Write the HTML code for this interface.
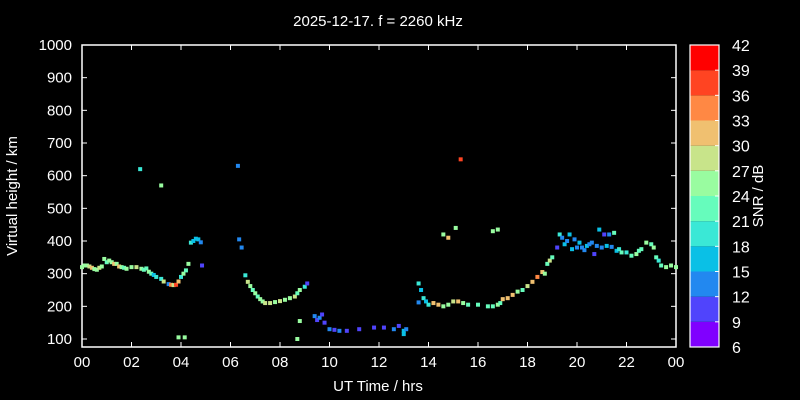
<!DOCTYPE html>
<html><head><meta charset="utf-8"><style>
html,body{margin:0;padding:0;background:#000;}
svg{display:block;font-family:"Liberation Sans",sans-serif;}
</style></head><body>
<svg id="chart" width="800" height="400" viewBox="0 0 800 400">
<rect width="800" height="400" fill="#000"/>
<text x="378" y="26" fill="#fff" font-size="15" text-anchor="middle">2025-12-17. f = 2260 kHz</text>
<g id="axes"></g>
<g id="points"></g>
<g id="cbar"></g>
<text x="378" y="391" fill="#fff" font-size="15" text-anchor="middle">UT Time / hrs</text>
<text transform="translate(17,196) rotate(-90)" fill="#fff" font-size="15" text-anchor="middle">Virtual height / km</text>
<text transform="translate(763,196) rotate(-90)" fill="#fff" font-size="15" text-anchor="middle">SNR / dB</text>
</svg>
<script>
const xTicks=[0,2,4,6,8,10,12,14,16,18,20,22,24];
const xTickLabels=["00","02","04","06","08","10","12","14","16","18","20","22","00"];
const yTicks=[100,200,300,400,500,600,700,800,900,1000];
const cbTicks=[6,9,12,15,18,21,24,27,30,33,36,39,42];
const cbColors=["#8000ff","#5044fc","#2288f0","#0ac0e6","#3ae8d6","#66fcbc","#99fca0","#c8e48a","#f0c070","#ff8844","#ff4422","#ff0000"];
const times=[0,0.1,0.2,0.3,0.4,0.5,0.6,0.7,0.8,0.9,1.0,1.1,1.2,1.3,1.4,1.5,1.6,1.7,1.8,2.0,2.2,2.4,2.5,2.6,2.7,2.8,2.9,3.0,3.2,3.3,3.5,3.6,3.7,3.8,3.9,4.0,4.1,4.2,4.3,4.4,4.5,4.6,4.7,4.8,4.85,
2.35,3.2,3.9,4.15,6.3,6.35,6.45,
6.6,6.7,6.8,6.9,7.0,7.1,7.2,7.3,7.4,7.6,7.8,8.0,8.2,8.4,8.6,8.7,8.8,9.0,9.1,8.8,8.7,9.4,9.5,9.6,9.7,9.8,10.0,10.2,10.4,10.7,11.2,11.8,12.2,12.6,12.8,13.0,13.1,13.0,
13.6,13.7,13.6,13.8,13.9,14.0,14.2,14.4,14.6,14.8,15.0,15.2,15.4,15.6,16.0,16.4,16.6,16.8,16.9,17.0,17.2,17.4,17.6,17.8,18.0,18.2,18.4,18.6,18.7,18.8,18.9,19.0,19.2,19.3,19.4,19.5,19.6,19.7,19.8,19.9,20.0,20.1,20.2,20.3,20.4,20.5,20.6,20.7,20.8,20.9,21.0,21.1,21.2,21.3,21.4,21.5,21.6,21.7,21.8,22.0,22.2,22.4,22.5,22.6,22.8,23.0,23.1,23.2,23.3,23.4,23.6,23.8,24.0,
15.3,14.6,14.8,15.1,16.6,16.8];
const heights=[320,325,325,322,318,314,312,318,322,345,335,340,335,330,330,322,320,318,315,320,320,315,312,316,306,300,296,290,284,276,268,266,265,266,276,290,300,310,330,395,400,407,405,396,325,
620,570,105,105,630,405,380,
295,275,262,250,240,230,222,215,210,210,213,216,220,225,230,240,250,260,270,155,100,170,158,165,175,150,130,128,125,125,130,135,135,130,140,125,130,115,
270,250,212,225,215,205,210,205,200,205,215,215,210,205,205,200,200,205,210,222,225,235,245,250,262,275,290,305,300,330,340,350,380,420,410,390,400,420,375,405,380,395,380,372,385,390,395,360,385,435,380,420,385,420,382,425,370,375,365,365,355,360,370,375,395,390,380,350,340,325,320,325,320,
650,420,410,440,430,435];
const snrs=[24,25,26,27,31,26,25,27,24,24,22,25,26,31,24,30,26,21,24,25,27,26,21,23,24,22,17,19,20,27,13,35,29,38,31,19,25,22,26,19,17,16,17,14,11,
20,25,25,25,12,14,14,
20,27,24,21,24,23,25,24,27,29,26,27,24,25,27,22,24,19,11,26,26,12,11,14,10,11,14,10,12,10,11,10,11,12,11,16,14,17,
20,15,13,18,15,20,30,31,26,24,27,30,25,22,22,21,22,25,21,30,31,30,25,22,28,31,34,32,24,23,27,23,10,18,13,15,12,17,16,14,12,15,14,13,17,14,14,10,13,17,12,10,17,14,13,22,17,20,21,18,21,24,21,22,24,23,24,21,20,21,25,26,24,
37,26,30,25,25,25];
const X0=82,X1=676,Y0=45,Y1=347,HMIN=75.5,HMAX=1000;
const xs=t=>X0+(X1-X0)*t/24;
const ys=h=>Y1-(Y1-Y0)*(h-HMIN)/(HMAX-HMIN);
const NS="http://www.w3.org/2000/svg";
function mk(tag,attrs,parent){const e=document.createElementNS(NS,tag);for(const k in attrs)e.setAttribute(k,attrs[k]);parent.appendChild(e);return e;}
const axes=document.getElementById('axes');
const frame=mk('rect',{x:X0,y:Y0,width:X1-X0,height:Y1-Y0,fill:'none',stroke:'#fff','stroke-width':1.5},axes);


xTicks.forEach((t,i)=>{
 const x=xs(t);
 mk('line',{x1:x,x2:x,y1:Y1,y2:Y1-5,stroke:'#fff','stroke-width':1},axes);
 mk('line',{x1:x,x2:x,y1:Y0,y2:Y0+5,stroke:'#fff','stroke-width':1},axes);
 const tx=mk('text',{x:x,y:Y1+20,fill:'#fff','font-size':15,'text-anchor':'middle'},axes);
 tx.textContent=xTickLabels[i];
 
 
});
yTicks.forEach(h=>{
 const y=ys(h);
 mk('line',{x1:X0,x2:X0+5,y1:y,y2:y,stroke:'#fff','stroke-width':1},axes);
 mk('line',{x1:X1,x2:X1-5,y1:y,y2:y,stroke:'#fff','stroke-width':1},axes);
 const tx=mk('text',{x:X0-10,y:y+5,fill:'#fff','font-size':15,'text-anchor':'end'},axes);
 tx.textContent=h;
 
 
});
const CB0=690,CB1=719;
const cs=v=>Y1-(Y1-Y0)*(v-6)/36;
function colorFor(s){let i=Math.floor((s-6)/3);i=Math.max(0,Math.min(cbColors.length-1,i));return cbColors[i];}
const cbar=document.getElementById('cbar');
cbColors.forEach((c,i)=>{
 const r=mk('rect',{x:CB0,y:cs(cbTicks[i+1]),width:CB1-CB0,height:cs(cbTicks[i])-cs(cbTicks[i+1]),fill:c},cbar);
 
 
});
mk('rect',{x:CB0,y:Y0,width:CB1-CB0,height:Y1-Y0,fill:'none',stroke:'#fff','stroke-width':1.2},cbar);
cbTicks.forEach(v=>{
 const y=cs(v);
 mk('line',{x1:CB1,x2:CB1-4,y1:y,y2:y,stroke:'#fff','stroke-width':1},cbar);
 const tx=mk('text',{x:732,y:y+6,fill:'#fff','font-size':16},cbar);
 tx.textContent=v;
 
 
});
const pts=document.getElementById('points');
times.forEach((t,i)=>{
 const r=mk('rect',{x:xs(t)-2,y:ys(heights[i])-2,width:4,height:4,fill:colorFor(snrs[i])},pts);
 
 
});
</script>
</body></html>
